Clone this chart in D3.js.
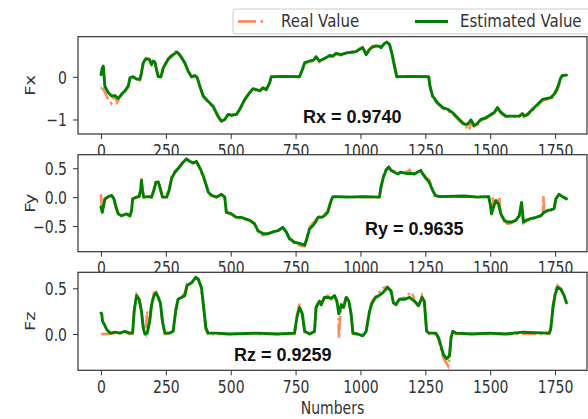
<!DOCTYPE html>
<html>
<head>
<meta charset="utf-8">
<script src="https://cdn.jsdelivr.net/npm/d3@7"></script>
<style>
  body { margin: 0; background: #fff; }
  svg { display: block; }
</style>
</head>
<body>
<svg id="chart" width="588" height="419"></svg>
<script>
// values, [sample number, value]
const fxEstimated = [[0,0.05],[5,0.21],[9,0.25],[12,0.02],[15,-0.22],[28,-0.37],[41,-0.45],[54,-0.44],[67,-0.51],[79,-0.41],[92,-0.33],[105,-0.22],[112,-0.02],[124,0.0],[137,-0.05],[150,-0.06],[156,0.09],[163,0.33],[173,0.42],[186,0.41],[195,0.29],[201,0.37],[208,0.34],[214,0.17],[221,0.0],[231,0.0],[240,0.21],[259,0.41],[278,0.52],[294,0.58],[306,0.49],[323,0.33],[336,0.13],[349,0.0],[362,0.03],[371,-0.02],[381,-0.22],[394,-0.45],[413,-0.57],[432,-0.69],[451,-0.92],[464,-1.04],[477,-1.0],[490,-0.88],[503,-0.9],[522,-0.88],[535,-0.76],[554,-0.53],[573,-0.37],[586,-0.28],[599,-0.3],[612,-0.33],[624,-0.26],[637,-0.3],[650,-0.14],[656,0.0],[700,0.01],[765,0.0],[776,0.17],[785,0.33],[804,0.37],[819,0.39],[829,0.47],[842,0.37],[855,0.41],[868,0.45],[881,0.5],[894,0.49],[906,0.55],[926,0.52],[945,0.56],[971,0.58],[983,0.59],[996,0.64],[1009,0.68],[1022,0.52],[1035,0.64],[1047,0.7],[1060,0.72],[1073,0.72],[1079,0.68],[1092,0.78],[1101,0.81],[1112,0.76],[1122,0.52],[1131,0.25],[1140,0.0],[1200,0.01],[1263,0.0],[1268,-0.22],[1278,-0.45],[1297,-0.61],[1317,-0.72],[1336,-0.76],[1355,-0.84],[1381,-1.0],[1400,-1.11],[1413,-1.11],[1426,-1.01],[1438,-1.15],[1451,-1.09],[1464,-1.0],[1483,-0.96],[1503,-0.88],[1515,-0.84],[1528,-0.72],[1541,-0.83],[1560,-0.92],[1612,-0.92],[1624,-0.86],[1631,-0.92],[1644,-0.88],[1663,-0.76],[1682,-0.65],[1701,-0.53],[1714,-0.51],[1733,-0.49],[1746,-0.41],[1759,-0.26],[1772,-0.02],[1778,0.03],[1794,0.04]];
const fxReal = [[0,-0.25],[10,-0.3],[20,-0.42],[30,-0.55],[40,-0.62],[48,-0.5],[54,-0.45],[62,-0.6],[67,-0.55],[79,-0.43],[92,-0.35],[105,-0.24],[112,-0.02],[124,0.0],[137,-0.05],[150,-0.08],[156,0.09],[163,0.35],[173,0.44],[186,0.42],[195,0.29],[201,0.37],[208,0.34],[214,0.17],[221,0.0],[231,0.0],[240,0.21],[259,0.43],[278,0.55],[294,0.62],[306,0.5],[323,0.33],[336,0.13],[349,0.0],[362,0.03],[371,-0.02],[381,-0.22],[394,-0.47],[413,-0.6],[432,-0.71],[451,-0.94],[464,-1.05],[477,-1.0],[490,-0.88],[503,-0.9],[522,-0.88],[535,-0.76],[554,-0.55],[573,-0.37],[586,-0.3],[599,-0.32],[612,-0.33],[624,-0.26],[637,-0.3],[650,-0.16],[656,0.0],[765,0.0],[776,0.15],[785,0.3],[804,0.35],[819,0.38],[829,0.46],[842,0.35],[855,0.4],[868,0.44],[881,0.48],[894,0.47],[906,0.53],[926,0.5],[945,0.55],[971,0.57],[983,0.6],[996,0.66],[1009,0.7],[1022,0.55],[1035,0.66],[1047,0.72],[1060,0.73],[1073,0.71],[1079,0.7],[1092,0.8],[1101,0.82],[1112,0.76],[1122,0.55],[1131,0.28],[1140,0.0],[1263,0.0],[1268,-0.24],[1278,-0.5],[1297,-0.63],[1317,-0.74],[1336,-0.8],[1355,-0.86],[1381,-1.03],[1400,-1.15],[1413,-1.2],[1419,-1.25],[1426,-1.05],[1438,-1.18],[1451,-1.12],[1464,-1.02],[1483,-0.98],[1503,-0.9],[1515,-0.86],[1528,-0.74],[1541,-0.85],[1560,-0.94],[1612,-0.93],[1624,-0.88],[1631,-0.93],[1644,-0.9],[1663,-0.79],[1682,-0.68],[1701,-0.56],[1714,-0.53],[1733,-0.53],[1746,-0.46],[1759,-0.32],[1772,-0.05],[1778,0.02],[1794,0.04]];

const fyEstimated = [[0,-0.17],[5,-0.26],[15,-0.03],[28,0.01],[41,0.03],[50,-0.03],[58,-0.17],[67,-0.29],[79,-0.32],[99,-0.29],[112,-0.32],[118,-0.23],[122,-0.03],[137,0.0],[147,0.01],[153,0.12],[156,0.29],[160,0.12],[165,0.0],[182,0.01],[195,0.0],[204,0.12],[212,0.26],[221,0.26],[229,0.14],[237,0.0],[253,0.0],[263,0.12],[272,0.32],[285,0.43],[297,0.49],[314,0.59],[329,0.66],[342,0.62],[355,0.59],[368,0.62],[383,0.49],[394,0.37],[404,0.23],[413,0.09],[426,0.03],[445,0.0],[464,0.05],[477,0.0],[483,-0.26],[503,-0.29],[522,-0.35],[541,-0.35],[554,-0.37],[573,-0.4],[592,-0.46],[605,-0.58],[624,-0.63],[644,-0.63],[663,-0.6],[682,-0.58],[701,-0.52],[714,-0.6],[727,-0.72],[746,-0.78],[765,-0.8],[785,-0.83],[791,-0.75],[804,-0.55],[817,-0.49],[827,-0.43],[836,-0.35],[849,-0.35],[861,-0.32],[874,-0.26],[887,-0.06],[894,0.01],[950,0.0],[1010,0.01],[1073,0.0],[1079,0.17],[1088,0.34],[1099,0.47],[1109,0.52],[1118,0.46],[1131,0.43],[1144,0.4],[1156,0.43],[1176,0.41],[1195,0.41],[1208,0.4],[1220,0.43],[1233,0.46],[1240,0.4],[1253,0.32],[1265,0.26],[1276,0.14],[1288,0.03],[1304,0.01],[1400,0.02],[1450,0.0],[1494,0.01],[1500,-0.12],[1505,-0.29],[1515,-0.14],[1522,-0.06],[1532,-0.12],[1541,-0.29],[1554,-0.4],[1567,-0.43],[1580,-0.43],[1599,-0.4],[1612,-0.32],[1621,-0.09],[1628,-0.43],[1637,-0.4],[1656,-0.37],[1676,-0.35],[1695,-0.32],[1708,-0.26],[1721,-0.23],[1733,-0.22],[1746,-0.2],[1753,-0.03],[1765,0.05],[1778,0.01],[1794,-0.03]];
const fyReal = [[0,0.05],[3,-0.2],[5,-0.28],[15,-0.05],[28,0.0],[41,0.03],[50,-0.03],[58,-0.19],[67,-0.31],[79,-0.33],[99,-0.3],[112,-0.33],[118,-0.23],[122,-0.03],[137,0.0],[147,0.01],[153,0.14],[156,0.33],[160,0.12],[165,0.0],[182,0.01],[195,0.0],[204,0.14],[212,0.3],[221,0.27],[229,0.14],[237,0.0],[253,0.0],[263,0.15],[272,0.36],[285,0.45],[297,0.5],[314,0.6],[329,0.66],[342,0.62],[355,0.59],[368,0.6],[383,0.47],[394,0.35],[404,0.23],[413,0.12],[426,0.03],[445,0.0],[464,0.05],[477,0.0],[483,-0.27],[503,-0.3],[522,-0.36],[541,-0.37],[554,-0.38],[573,-0.4],[592,-0.47],[605,-0.6],[624,-0.66],[644,-0.64],[663,-0.6],[682,-0.58],[701,-0.53],[714,-0.6],[727,-0.73],[746,-0.8],[765,-0.83],[785,-0.85],[791,-0.75],[804,-0.52],[817,-0.45],[827,-0.4],[836,-0.33],[849,-0.33],[861,-0.3],[874,-0.24],[887,-0.04],[894,0.01],[1073,0.0],[1079,0.17],[1088,0.36],[1099,0.48],[1109,0.52],[1118,0.47],[1131,0.45],[1144,0.42],[1156,0.44],[1176,0.43],[1189,0.47],[1195,0.42],[1208,0.41],[1220,0.44],[1233,0.47],[1240,0.42],[1253,0.34],[1265,0.3],[1276,0.16],[1288,0.03],[1304,0.01],[1494,0.01],[1500,-0.12],[1505,-0.29],[1508,-0.2],[1510,0.02],[1513,-0.12],[1522,-0.06],[1532,-0.12],[1535,0.01],[1538,-0.2],[1541,-0.3],[1554,-0.42],[1567,-0.46],[1580,-0.45],[1599,-0.4],[1612,-0.32],[1621,-0.09],[1628,-0.45],[1637,-0.42],[1656,-0.38],[1676,-0.36],[1695,-0.33],[1703,-0.28],[1705,0.02],[1708,-0.27],[1721,-0.24],[1733,-0.23],[1746,-0.2],[1753,-0.03],[1765,0.05],[1778,0.01],[1794,-0.03]];

const fzEstimated = [[0,0.23],[3,0.22],[6,0.14],[12,0.11],[22,0.05],[35,0.01],[54,0.02],[73,0.01],[92,0.03],[112,0.01],[122,0.01],[128,0.25],[137,0.42],[147,0.38],[156,0.25],[163,0.07],[169,0.0],[178,0.01],[188,0.14],[195,0.32],[204,0.42],[212,0.45],[221,0.4],[229,0.34],[237,0.14],[246,0.01],[265,0.01],[278,0.03],[288,0.25],[297,0.38],[310,0.4],[323,0.42],[332,0.53],[349,0.56],[365,0.62],[375,0.6],[387,0.51],[396,0.29],[404,0.07],[413,0.01],[445,0.01],[496,0.0],[599,0.01],[680,0.0],[746,0.01],[755,0.18],[765,0.29],[776,0.22],[785,0.03],[804,0.0],[823,0.03],[829,0.29],[842,0.36],[849,0.32],[861,0.4],[874,0.4],[887,0.39],[900,0.42],[909,0.36],[917,0.22],[926,0.32],[935,0.29],[945,0.4],[955,0.36],[964,0.22],[971,0.01],[990,0.0],[1009,-0.02],[1022,0.03],[1035,0.25],[1045,0.34],[1058,0.4],[1071,0.42],[1086,0.45],[1104,0.51],[1118,0.47],[1127,0.34],[1137,0.32],[1150,0.38],[1170,0.38],[1189,0.4],[1208,0.36],[1224,0.31],[1237,0.4],[1246,0.36],[1255,0.03],[1265,0.01],[1291,0.01],[1301,-0.04],[1310,-0.13],[1319,-0.22],[1332,-0.27],[1343,-0.24],[1349,-0.04],[1356,0.03],[1368,0.01],[1430,0.0],[1497,0.01],[1560,0.0],[1626,0.02],[1727,0.01],[1733,0.05],[1742,0.29],[1750,0.43],[1759,0.51],[1772,0.49],[1785,0.42],[1794,0.34]];
const fzReal = [[0,0.0],[35,0.0],[54,0.01],[73,0.01],[92,0.02],[112,0.0],[122,0.01],[128,0.27],[137,0.43],[147,0.38],[156,0.25],[163,0.05],[172,0.0],[178,0.25],[182,0.05],[188,0.16],[195,0.34],[204,0.45],[212,0.46],[221,0.4],[229,0.32],[237,0.12],[246,0.0],[265,0.01],[278,0.03],[288,0.27],[297,0.38],[310,0.4],[323,0.45],[332,0.55],[349,0.56],[365,0.62],[375,0.6],[387,0.5],[396,0.27],[404,0.05],[413,0.0],[746,0.0],[755,0.2],[765,0.33],[776,0.2],[785,0.02],[804,0.0],[823,0.02],[829,0.3],[842,0.37],[849,0.33],[861,0.4],[874,0.42],[887,0.38],[900,0.43],[909,0.35],[914,0.3],[917,-0.05],[922,0.2],[926,0.32],[935,0.3],[945,0.42],[955,0.37],[964,0.2],[971,0.0],[1009,-0.01],[1022,0.03],[1035,0.27],[1045,0.36],[1058,0.41],[1071,0.45],[1086,0.5],[1104,0.52],[1118,0.46],[1127,0.34],[1137,0.33],[1150,0.38],[1170,0.4],[1189,0.44],[1200,0.45],[1208,0.36],[1224,0.3],[1237,0.42],[1246,0.35],[1255,0.02],[1265,0.0],[1291,0.0],[1301,-0.06],[1310,-0.16],[1319,-0.26],[1332,-0.32],[1338,-0.35],[1343,-0.26],[1349,-0.05],[1356,0.02],[1368,0.0],[1727,0.0],[1733,0.05],[1742,0.32],[1750,0.46],[1759,0.53],[1772,0.5],[1785,0.42],[1794,0.34]];

const xTicks = [0, 250, 500, 750, 1000, 1250, 1500, 1750];
const panelNames = ["Fx", "Fy", "Fz"];
const rLabels = ["Rx = 0.9740", "Ry = 0.9635", "Rz = 0.9259"];
const yTicks = [[-1, 0], [-0.5, 0, 0.5], [0, 0.5]];
const yDomains = [[-1.34, 0.94], [-0.943, 0.734], [-0.397, 0.675]];
const legendNames = ["Real Value", "Estimated Value"];

const realColor = "#ff7f50";
const estColor = "#008000";

const svg = d3.select("#chart");
const left = 78, right = 587;
const panelTops = [36.7, 154.7, 272.3];
const panelBottoms = [134, 251.7, 370.3];
const rPos = [[303, 123], [365, 235], [234, 361]];
// the reference text is a little stretched vertically
const stretch = 1.27;

const x = d3.scaleLinear().domain([-88.5, 1873]).range([left, right]);
const minus = s => s.replace("-", "\u2212");

const series = [[fxReal, fxEstimated], [fyReal, fyEstimated], [fzReal, fzEstimated]];

series.forEach(([real, est], i) => {
  const top = panelTops[i], bottom = panelBottoms[i];
  const y = d3.scaleLinear().domain(yDomains[i]).range([bottom, top]);
  const g = svg.append("g");

  // white face hides the tick labels of the panel above
  g.append("rect").attr("x", left).attr("y", top)
    .attr("width", right - left).attr("height", bottom - top).attr("fill", "#fff");

  g.append("clipPath").attr("id", "clip" + i)
    .append("rect").attr("x", left).attr("y", top)
    .attr("width", right - left).attr("height", bottom - top);

  const line = d3.line().x(d => x(d[0])).y(d => y(d[1]));
  const plot = g.append("g").attr("clip-path", `url(#clip${i})`);
  plot.append("path").datum(real).attr("d", line)
    .attr("fill", "none").attr("stroke", realColor).attr("stroke-width", 2.6)
    .attr("stroke-dasharray", "14,3.5,2.5,3.5").attr("opacity", 0.9);
  plot.append("path").datum(est).attr("d", line)
    .attr("fill", "none").attr("stroke", estColor).attr("stroke-width", 2.9)
    .attr("stroke-linejoin", "round").attr("stroke-linecap", "round");

  const fmt = i === 0 ? d3.format("d") : d3.format(".1f");
  const yAxis = g.append("g").attr("transform", `translate(${left},0)`)
    .call(d3.axisLeft(y).tickValues(yTicks[i]).tickSize(5).tickFormat(d => minus(fmt(d))));
  const xAxis = g.append("g").attr("transform", `translate(0,${bottom})`)
    .call(d3.axisBottom(x).tickValues(xTicks).tickSize(5).tickFormat(d3.format("d")));
  [xAxis, yAxis].forEach(a => {
    a.select(".domain").remove();
    a.selectAll("line").attr("stroke", "#333");
    a.selectAll("text").attr("fill", "#333")
      .style("font-family", "DejaVu Sans").style("font-size", "14px")
      .attr("x", null).attr("y", null).attr("dy", null);
  });
  xAxis.selectAll("text").attr("transform", `translate(0,22.5) scale(1,${stretch})`);
  yAxis.selectAll("text").attr("transform", `translate(-11,6.4) scale(1,${stretch})`);

  g.append("rect").attr("x", left).attr("y", top)
    .attr("width", right - left).attr("height", bottom - top)
    .attr("fill", "none").attr("stroke", "#333").attr("stroke-width", 1.2);

  g.append("text").attr("transform", `translate(35,${(top + bottom) / 2}) rotate(-90) scale(${stretch},1)`)
    .attr("text-anchor", "middle").attr("fill", "#333")
    .style("font-family", "DejaVu Sans").style("font-size", "14px")
    .text(panelNames[i]);

  g.append("text").attr("x", rPos[i][0]).attr("y", rPos[i][1])
    .style("font-family", "Liberation Sans, Arial, sans-serif")
    .style("font-size", "18px").style("font-weight", "bold")
    .attr("fill", "#111").text(rLabels[i]);
});

svg.append("text").attr("transform", `translate(${(left + right) / 2},414) scale(1,${stretch})`)
  .attr("text-anchor", "middle").attr("fill", "#333")
  .style("font-family", "DejaVu Sans").style("font-size", "14px")
  .text("Numbers");

// legend, cut off at the right edge like the reference
const legend = svg.append("g");
legend.append("rect").attr("x", 233).attr("y", 9).attr("width", 380).attr("height", 25)
  .attr("rx", 3).attr("fill", "#fff").attr("stroke", "#ccc");
legend.append("line").attr("x1", 238).attr("x2", 266).attr("y1", 21.5).attr("y2", 21.5)
  .attr("stroke", realColor).attr("stroke-width", 2.6).attr("stroke-dasharray", "18,4.5,2.5,4.5");
legend.append("line").attr("x1", 415).attr("x2", 448).attr("y1", 21.5).attr("y2", 21.5)
  .attr("stroke", estColor).attr("stroke-width", 2.9);
legend.selectAll("text.lbl").data(legendNames).join("text")
  .attr("transform", (d, i) => `translate(${i === 0 ? 281 : 460},27) scale(1,1.12)`)
  .attr("fill", "#333").style("font-family", "DejaVu Sans").style("font-size", "15px")
  .text(d => d);
</script>
</body>
</html>
